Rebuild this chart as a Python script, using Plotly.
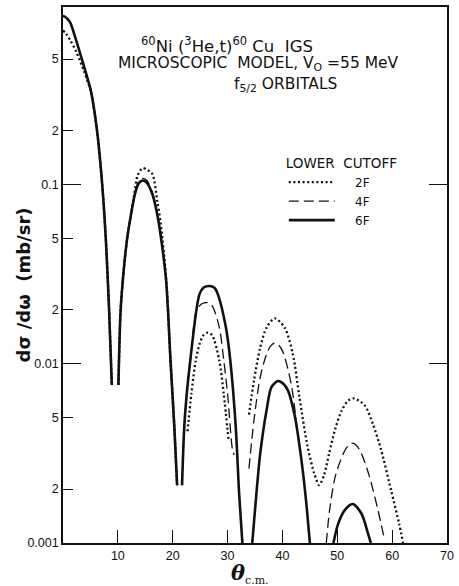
import plotly.graph_objects as go

# ---- data ----
# Solid: lower cutoff 6F (segments separated by None)
theta_6f = [0, 0.6, 1.3, 2.1, 3.6, 5.1, 6.2, 7.1, 7.8, 8.4, 8.9, None,
            10.1, 10.5, 11.1, 11.7, 12.4, 13.1, 13.8, 14.5, 15.3, 16.3, 17.1, 17.8, 18.8, 19.6, 20.3, 20.8, None,
            21.7, 22.1, 22.6, 23.2, 24.3, 24.9, 25.6, 26.7, 27.6, 28.2, 29.7, 30.5, 31.5, 32.1, 32.7, None,
            34.5, 35.1, 35.95, 37.1, 38.0, 39.2, 40.2, 41.0, 42.2, 43.4, 44.3, 45.0, None,
            49.3, 50.2, 51.4, 52.8, 54.4, 55.6, 56.1]
xs_6f = [0.87, 0.85, 0.80, 0.68, 0.48, 0.33, 0.20, 0.104, 0.05, 0.02, 0.0076, None,
         0.0076, 0.0197, 0.034, 0.05, 0.068, 0.088, 0.101, 0.105, 0.102, 0.088, 0.07, 0.052, 0.029, 0.0104, 0.0044, 0.0021, None,
         0.0021, 0.0044, 0.007, 0.0104, 0.0197, 0.0245, 0.0265, 0.0271, 0.0265, 0.0245, 0.0159, 0.0104, 0.0044, 0.0019, 0.001, None,
         0.001, 0.00166, 0.00315, 0.00548, 0.0074, 0.0080, 0.0077, 0.0071, 0.0052, 0.0030, 0.00173, 0.001, None,
         0.001, 0.00129, 0.00153, 0.00165, 0.00146, 0.00113, 0.001]

# Dashed: lower cutoff 4F
theta_4f = [0, 0.6, 1.3, 2.1, 3.6, 5.1, 6.2, 7.1, 7.8, 8.4, 8.9, None,
            10.1, 10.5, 11.1, 11.7, 12.4, 13.1, 13.8, 14.5, 15.3, 16.3, 17.1, 17.8, 18.8, 19.6, 20.3, 20.8, None,
            21.7, 22.1, 22.6, 23.2, 24.3, 25.0, 25.7, 26.4, 27.2, 28.5, 29.3, 30.0, 30.9, 31.2, None,
            33.9, 34.8, 35.95, 37.1, 37.8, 38.5, 39.3, 40.1, 41.6, 42.8, 43.1, None,
            48.0, 48.6, 49.6, 50.8, 51.7, 52.6, 53.5, 54.4, 55.9, 57.4, 58.6]
xs_4f = [0.87, 0.85, 0.80, 0.68, 0.48, 0.33, 0.20, 0.104, 0.05, 0.02, 0.0076, None,
         0.0076, 0.0197, 0.034, 0.05, 0.068, 0.09, 0.104, 0.108, 0.105, 0.09, 0.071, 0.052, 0.029, 0.0104, 0.0044, 0.0021, None,
         0.0021, 0.0044, 0.007, 0.0104, 0.0197, 0.0212, 0.0218, 0.0219, 0.0210, 0.0159, 0.0105, 0.0068, 0.0033, 0.0031, None,
         0.0026, 0.0048, 0.0084, 0.0113, 0.0125, 0.0130, 0.0127, 0.0116, 0.0077, 0.0041, 0.0036, None,
         0.001, 0.00153, 0.00233, 0.0030, 0.0034, 0.0036, 0.0035, 0.00315, 0.00233, 0.00153, 0.00105]

# Dotted: lower cutoff 2F
theta_2f = [0, 0.6, 1.4, 2.4, 3.8, 4.9, 5.1, 6.2, 7.1, 7.8, 8.4, 8.9, None,
            10.1, 10.5, 11.1, 11.7, 12.4, 13.0, 13.6, 14.5, 15.4, 16.3, 17.2, 17.8, 18.8, 19.6, 20.3, 20.8, None,
            22.7, 23.4, 24.2, 24.9, 25.6, 26.4, 27.2, 28.5, 29.3, 30.2, None,
            33.9, 34.8, 35.95, 37.1, 38.6, 40.4, 41.9, 43.1, 44.6, 45.8, 46.7, 47.6, 48.5, 49.6, 50.8, 52.0,
            53.1, 55.0, 56.5, 58.0, 59.8, 61.25, 62.0]
xs_2f = [0.72, 0.69, 0.63, 0.55, 0.43, 0.345, 0.33, 0.20, 0.104, 0.05, 0.02, 0.0076, None,
         0.0076, 0.0197, 0.034, 0.05, 0.068, 0.088, 0.112, 0.123, 0.120, 0.114, 0.080, 0.061, 0.03, 0.0104, 0.0044, 0.0021, None,
         0.0042, 0.0068, 0.0104, 0.0129, 0.0144, 0.0149, 0.0144, 0.0104, 0.0068, 0.0037, None,
         0.0052, 0.008, 0.0123, 0.0159, 0.0179, 0.0159, 0.0113, 0.0065, 0.00343, 0.00244, 0.0021, 0.0024, 0.00315,
         0.0043, 0.00548, 0.00623, 0.0064, 0.00585, 0.0046, 0.0033, 0.00197, 0.00129, 0.001]

x_ticks = [10, 20, 30, 40, 50, 60, 70]
y_ticks = [0.001, 0.002, 0.005, 0.01, 0.02, 0.05, 0.1, 0.2, 0.5]
y_ticktext = ["0.001", "2", "5", "0.01", "2", "5", "0.1", "2", "5"]
y_decades = [0.01, 0.1]

INK = "#111111"
TICKFONT = dict(family="Liberation Sans, Arial, sans-serif", size=12.5, color=INK)

fig = go.Figure()
fig.add_trace(go.Scatter(x=theta_2f, y=xs_2f, mode="lines", name="    2F",
                         line=dict(color=INK, width=2.3, dash="2px,2.6px", shape="spline", smoothing=0.8)))
fig.add_trace(go.Scatter(x=theta_4f, y=xs_4f, mode="lines", name="    4F",
                         line=dict(color=INK, width=1.3, dash="10px,5px", shape="spline", smoothing=0.8)))
fig.add_trace(go.Scatter(x=theta_6f, y=xs_6f, mode="lines", name="    6F",
                         line=dict(color=INK, width=2.6, shape="spline", smoothing=0.8)))
# empty helper traces so the extra tick axes are drawn
fig.add_trace(go.Scatter(x=[None], y=[None], yaxis="y2", showlegend=False, hoverinfo="skip"))
fig.add_trace(go.Scatter(x=[None], y=[None], yaxis="y3", showlegend=False, hoverinfo="skip"))

yrange = [-3, -0.011]
fig.update_layout(
    width=459, height=586,
    margin=dict(l=63, r=7, t=5, b=43),
    paper_bgcolor="white", plot_bgcolor="white",
    showlegend=True,
    legend=dict(x=0.575, y=0.733, xanchor="left", yanchor="top",
                bgcolor="rgba(0,0,0,0)", borderwidth=0, itemwidth=46,
                font=dict(family="DejaVu Sans, sans-serif", size=12, color=INK),
                title=dict(text="LOWER  CUTOFF", side="top",
                           font=dict(family="DejaVu Sans, sans-serif", size=13.5, color=INK)),
                tracegroupgap=0),
    xaxis=dict(range=[0, 70], tickvals=x_ticks, ticks="inside", ticklen=13, tickwidth=1.3,
               tickcolor=INK, showline=True, linecolor=INK, linewidth=1.6, mirror=True,
               showgrid=False, zeroline=False, tickfont=TICKFONT),
    yaxis=dict(type="log", range=yrange, tickvals=y_ticks, ticktext=y_ticktext,
               ticks="inside", ticklen=10, tickwidth=1.3, tickcolor=INK,
               showline=True, linecolor=INK, linewidth=1.6, mirror=True,
               showgrid=False, zeroline=False, tickfont=TICKFONT),
    yaxis2=dict(type="log", range=yrange, overlaying="y", side="left", anchor="x",
                tickvals=y_decades, ticks="inside", ticklen=18, tickwidth=1.3, tickcolor=INK,
                showticklabels=False, showline=False, showgrid=False, zeroline=False),
    yaxis3=dict(type="log", range=yrange, overlaying="y", side="right", anchor="x",
                tickvals=y_decades, ticks="inside", ticklen=18, tickwidth=1.3, tickcolor=INK,
                showticklabels=False, showline=False, showgrid=False, zeroline=False),
)

TITLEFONT = dict(family="DejaVu Sans, sans-serif", size=15.5, color=INK)
fig.add_annotation(xref="paper", yref="paper", x=(140 - 63) / 389, y=(543 - 43) / 538,
                   xanchor="left", yanchor="middle", showarrow=False,
                   font=dict(family="DejaVu Sans, sans-serif", size=16.5, color=INK),
                   text="<sup>60</sup>Ni (<sup>3</sup>He,t)<sup>60</sup> Cu  IGS")
fig.add_annotation(xref="paper", yref="paper", x=(117 - 63) / 389, y=(543 - 62) / 538,
                   xanchor="left", yanchor="middle", showarrow=False, font=TITLEFONT,
                   text="MICROSCOPIC  MODEL, V<sub>O</sub> =55 MeV")
fig.add_annotation(xref="paper", yref="paper", x=(234 - 63) / 389, y=(543 - 83) / 538,
                   xanchor="left", yanchor="middle", showarrow=False, font=TITLEFONT,
                   text="f<sub>5/2</sub> ORBITALS")
fig.add_annotation(xref="paper", yref="paper", x=(23 - 63) / 389, y=(543 - 284) / 538,
                   xanchor="center", yanchor="middle", showarrow=False, textangle=-90,
                   font=dict(family="DejaVu Sans, sans-serif", size=18, color=INK),
                   text="<b>dσ /dω  (mb/sr)</b>")
fig.add_annotation(xref="paper", yref="paper", x=(231 - 63) / 389, y=(543 - 574) / 538,
                   xanchor="left", yanchor="middle", showarrow=False,
                   font=dict(family="DejaVu Serif, serif", size=21, color=INK),
                   text="<b><i>θ</i></b><sub><span style='font-size:11px'>c.m.</span></sub>")

fig.write_html("out.html")
